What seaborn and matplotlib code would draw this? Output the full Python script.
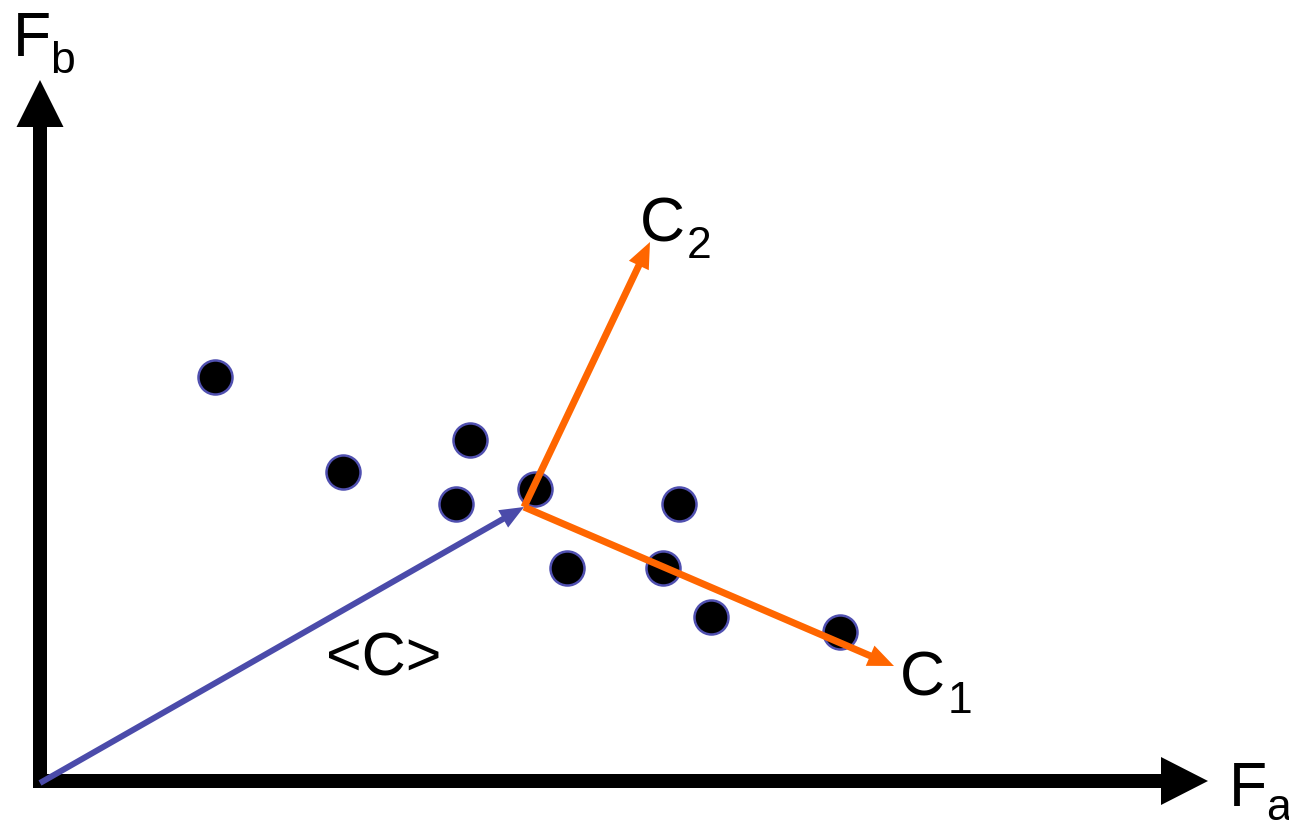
import matplotlib
matplotlib.use("Agg")
import matplotlib.pyplot as plt
import seaborn as sns
import pandas as pd

# sample points (picture coords, y grows downward)
pt_x = [215, 343, 470, 456, 535, 679, 567, 663, 711, 840]
pt_y = [377, 472, 440, 504, 489, 504, 568, 568, 617, 632]

# mean vector <C> and the two component directions
origin = (40, 783)
mean_c = (524, 507)
c1_tip = (894, 666)
c2_tip = (650, 242)

# axis arrows
yaxis_start, yaxis_tip = (40, 788), (40, 80)
xaxis_start, xaxis_tip = (33, 781), (1208, 781)

sns.set_style("white")
plt.rcParams['font.family'] = ['Liberation Sans', 'DejaVu Sans']
plt.rcParams['text.color'] = 'black'

fig = plt.figure(figsize=(12.89, 8.27), dpi=100)
ax = fig.add_axes([0, 0, 1, 1])
ax.set_xlim(0, 1289)
ax.set_ylim(827, 0)

df = pd.DataFrame({"x": pt_x, "y": pt_y})
sns.scatterplot(data=df, x="x", y="y", ax=ax, s=600, color="black",
                edgecolor="#5050B0", linewidth=1.8, zorder=3)

def arrow(p0, p1, w, hw, hl, color, z):
    ax.arrow(p0[0], p0[1], p1[0] - p0[0], p1[1] - p0[1], width=w,
             head_width=hw, head_length=hl, length_includes_head=True,
             color=color, zorder=z, linewidth=0)

# coordinate axes
arrow(yaxis_start, yaxis_tip, 14, 47, 47, "black", 2)
arrow(xaxis_start, xaxis_tip, 14, 48, 47, "black", 2)

# vectors
arrow(origin, mean_c, 6, 20, 24, "#4B4BAA", 4)
arrow(mean_c, c2_tip, 7, 22, 26, "#FF6600", 5)
arrow(mean_c, c1_tip, 7, 22, 26, "#FF6600", 5)

big, small = 45, 32
def label(x, y, main, sub, dx, sub_drop=17):
    ax.text(x, y, main, fontsize=big, va="baseline", ha="left", color="black")
    ax.text(x + dx, y + sub_drop, sub, fontsize=small, va="baseline",
            ha="left", color="black")

label(13, 56, "F", "b", 37)
label(640, 241, "C", "2", 47)
label(900, 696, "C", "1", 48)
label(1229, 806, "F", "a", 37, sub_drop=14)
ax.text(384, 660, "<C>", fontsize=44, ha="center", va="center", color="black")

ax.set_axis_off()
fig.savefig("out.png", dpi=100)
